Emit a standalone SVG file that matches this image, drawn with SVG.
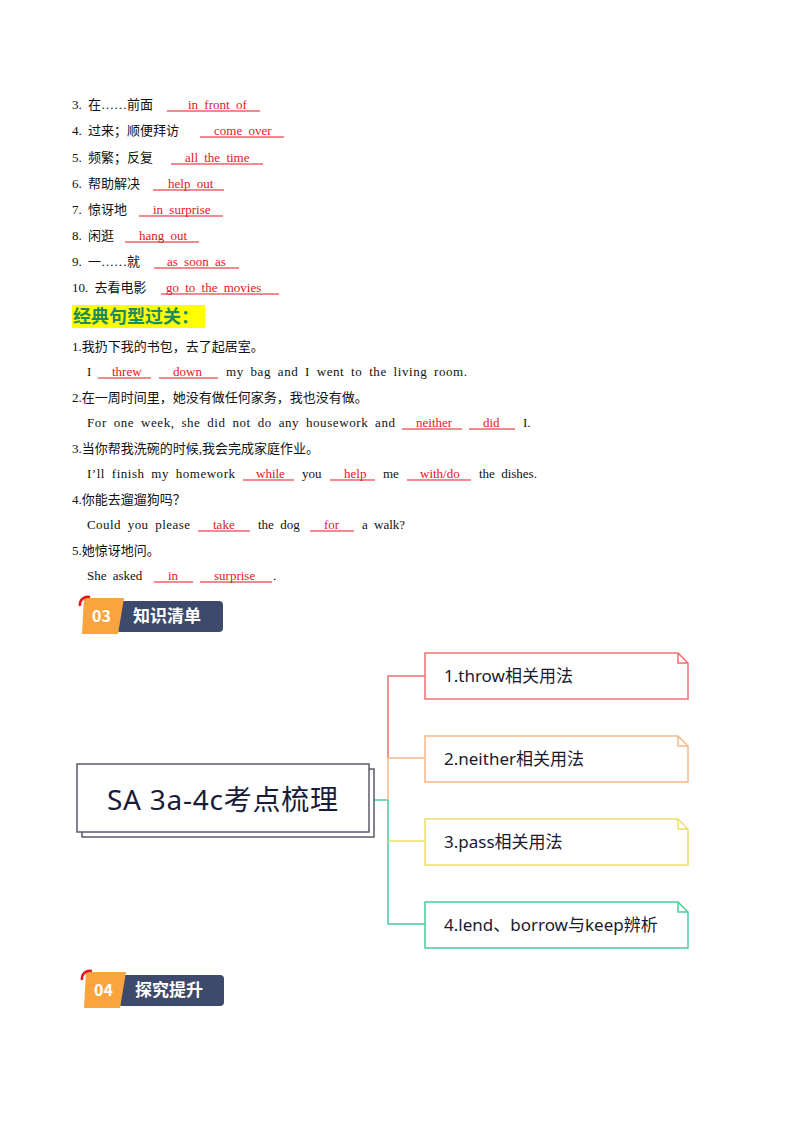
<svg xmlns="http://www.w3.org/2000/svg" width="800" height="1132" viewBox="0 0 800 1132">
<style>
.t{font-family:"Liberation Serif","Noto Sans CJK SC",serif;font-size:13px;fill:#111;word-spacing:3px}
.a{font-family:"Liberation Serif","Noto Sans CJK SC",serif;font-size:13px;fill:#e8141c;word-spacing:3px}
.u{stroke:#e8141c;stroke-width:1}
.m{font-family:"Noto Sans","Noto Sans CJK SC",sans-serif;font-size:17px;fill:#1a1a2e}
.b{font-family:"Noto Sans CJK SC",sans-serif;font-weight:bold;fill:#fff}
</style>
<rect width="800" height="1132" fill="#fff"/>
<g id="vocab">
<text class="t" x="72" y="109">3.  在……前面</text><line class="u" x1="167" y1="111" x2="260" y2="111"/><text class="a" x="188" y="109">in front of</text>
<text class="t" x="72" y="135">4.  过来；顺便拜访</text><line class="u" x1="200" y1="137" x2="284" y2="137"/><text class="a" x="214" y="135">come over</text>
<text class="t" x="72" y="162">5.  频繁；反复</text><line class="u" x1="171" y1="164" x2="263" y2="164"/><text class="a" x="185" y="162">all the time</text>
<text class="t" x="72" y="188">6.  帮助解决</text><line class="u" x1="153" y1="190" x2="224" y2="190"/><text class="a" x="168" y="188">help out</text>
<text class="t" x="72" y="214">7.  惊讶地</text><line class="u" x1="139" y1="216" x2="223" y2="216"/><text class="a" x="153" y="214">in surprise</text>
<text class="t" x="72" y="240">8.  闲逛</text><line class="u" x1="125" y1="242" x2="199" y2="242"/><text class="a" x="139" y="240">hang out</text>
<text class="t" x="72" y="266">9.  一……就</text><line class="u" x1="154" y1="268" x2="239" y2="268"/><text class="a" x="167" y="266">as soon as</text>
<text class="t" x="72" y="292">10.  去看电影</text><line class="u" x1="161" y1="294" x2="279" y2="294"/><text class="a" x="166" y="292">go to the movies</text>
</g>
<g id="heading">
<rect x="72" y="305" width="133" height="23" fill="#ffff00"/>
<text x="73" y="323" font-family="Noto Sans CJK SC,sans-serif" font-weight="bold" font-size="18" fill="#1f8a5f">经典句型过关：</text>
</g>
<g id="sentences">
<text class="t" x="72" y="351">1.我扔下我的书包，去了起居室。</text>
<text class="t" x="87" y="376">I</text><line class="u" x1="98" y1="378" x2="151" y2="378"/><text class="a" x="112" y="376">threw</text><line class="u" x1="159" y1="378" x2="218" y2="378"/><text class="a" x="173" y="376">down</text><text class="t" x="226" y="376" textLength="241" lengthAdjust="spacing">my  bag  and  I  went  to  the  living  room.</text>
<text class="t" x="72" y="402">2.在一周时间里，她没有做任何家务，我也没有做。</text>
<text class="t" x="87" y="427" textLength="308" lengthAdjust="spacing">For  one  week,  she  did  not  do  any  housework  and</text><line class="u" x1="402" y1="429" x2="462" y2="429"/><text class="a" x="416" y="427">neither</text><line class="u" x1="469" y1="429" x2="515" y2="429"/><text class="a" x="483" y="427">did</text><text class="t" x="523" y="427">I.</text>
<text class="t" x="72" y="453">3.当你帮我洗碗的时候,我会完成家庭作业。</text>
<text class="t" x="87" y="478" textLength="148" lengthAdjust="spacing">I’ll  finish  my  homework</text><line class="u" x1="243" y1="480" x2="294" y2="480"/><text class="a" x="256" y="478">while</text><text class="t" x="302" y="478">you</text><line class="u" x1="330" y1="480" x2="375" y2="480"/><text class="a" x="344" y="478">help</text><text class="t" x="383" y="478">me</text><line class="u" x1="407" y1="480" x2="471" y2="480"/><text class="a" x="420" y="478">with/do</text><text class="t" x="479" y="478">the  dishes.</text>
<text class="t" x="72" y="504">4.你能去遛遛狗吗？</text>
<text class="t" x="87" y="529" textLength="103" lengthAdjust="spacing">Could  you  please</text><line class="u" x1="198" y1="531" x2="250" y2="531"/><text class="a" x="213" y="529">take</text><text class="t" x="258" y="529">the  dog</text><line class="u" x1="310" y1="531" x2="354" y2="531"/><text class="a" x="324" y="529">for</text><text class="t" x="362" y="529">a  walk?</text>
<text class="t" x="72" y="555">5.她惊讶地问。</text>
<text class="t" x="87" y="580">She  asked</text><line class="u" x1="154" y1="582" x2="193" y2="582"/><text class="a" x="168" y="580">in</text><line class="u" x1="200" y1="582" x2="272" y2="582"/><text class="a" x="214" y="580">surprise</text><text class="t" x="273" y="580">.</text>
</g>
<g id="badge03">
<rect x="116" y="601" width="107" height="31" rx="4" fill="#3d4a6b"/>
<polygon points="84,598 124,598 118,634 82,634" fill="#f9a43e"/>
<path d="M80,606 A8,8 0 0 1 90,597" fill="none" stroke="#e8141c" stroke-width="2.5"/>
<text class="b" x="92" y="622" font-size="16" font-family="Noto Sans,sans-serif">03</text>
<text class="b" x="133" y="622" font-size="17">知识清单</text>
</g>
<g id="connectors" fill="none" stroke-width="1.5">
<line x1="374" y1="800" x2="388" y2="800" stroke="#4ccc99"/>
<polyline points="425,676 388,676 388,758" stroke="#f07070"/>
<polyline points="425,758 388,758 388,800" stroke="#f5b88a"/>
<polyline points="388,800 388,924 425,924" stroke="#4ccc99"/>
<line x1="388" y1="841" x2="425" y2="841" stroke="#f2dc6a"/>
</g>
<g id="center">
<rect x="82" y="769" width="292" height="68" fill="#fff" stroke="#5a5a6e" stroke-width="1.5"/>
<rect x="77" y="764" width="292" height="68" fill="#fff" stroke="#5a5a6e" stroke-width="1.5"/>
<text x="107" y="810" font-family="Noto Sans,Noto Sans CJK SC,sans-serif" font-size="28" fill="#1a1a3a" textLength="231">SA 3a-4c考点梳理</text>
</g>
<g id="n1"><path d="M425,653 H678 L688,663 V699 H425 Z M678,653 V663 H688" fill="#fff" stroke="#f07070" stroke-width="1.5"/><text class="m" x="444" y="682">1.throw相关用法</text></g>
<g id="n2"><path d="M425,736 H678 L688,746 V782 H425 Z M678,736 V746 H688" fill="#fff" stroke="#f5b88a" stroke-width="1.5"/><text class="m" x="444" y="765">2.neither相关用法</text></g>
<g id="n3"><path d="M425,819 H678 L688,829 V865 H425 Z M678,819 V829 H688" fill="#fff" stroke="#f2dc6a" stroke-width="1.5"/><text class="m" x="444" y="848">3.pass相关用法</text></g>
<g id="n4"><path d="M425,902 H678 L688,912 V948 H425 Z M678,902 V912 H688" fill="#fff" stroke="#4ccc99" stroke-width="1.5"/><text class="m" x="444" y="931">4.lend、borrow与keep辨析</text></g>
<g id="badge04">
<rect x="118" y="975" width="106" height="31" rx="4" fill="#3d4a6b"/>
<polygon points="86,972 126,972 120,1008 84,1008" fill="#f9a43e"/>
<path d="M82,980 A8,8 0 0 1 92,971" fill="none" stroke="#e8141c" stroke-width="2.5"/>
<text class="b" x="94" y="996" font-size="16" font-family="Noto Sans,sans-serif">04</text>
<text class="b" x="135" y="996" font-size="17">探究提升</text>
</g>
</svg>
